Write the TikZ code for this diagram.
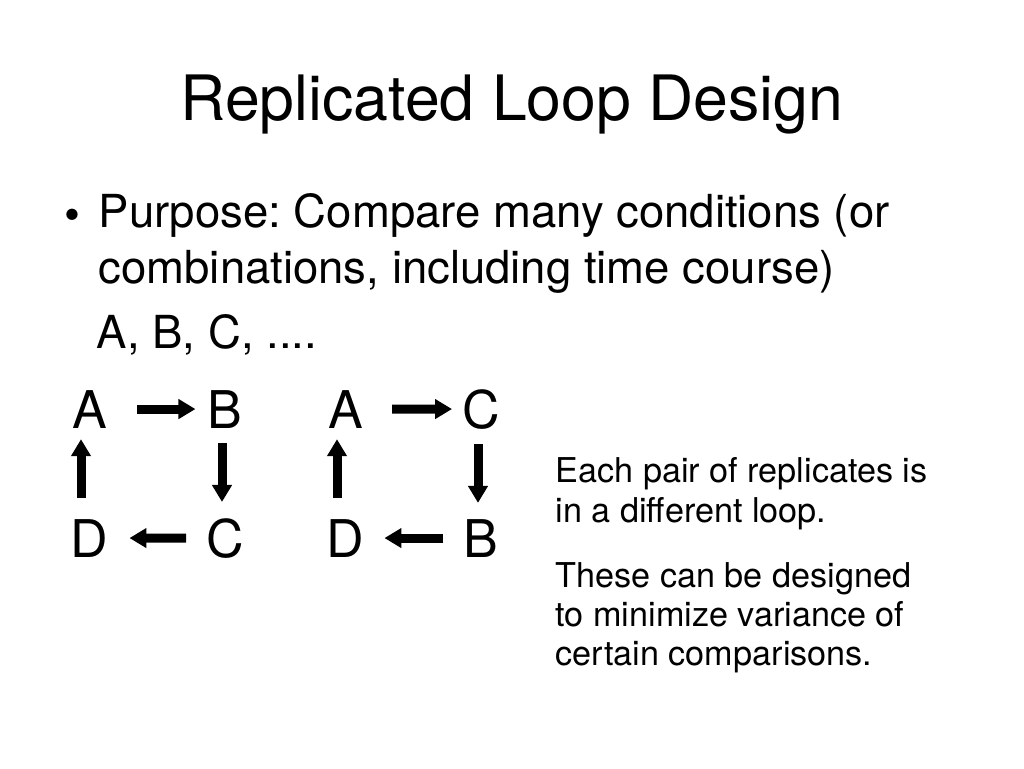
\documentclass[tikz,border=0pt]{standalone}
\usepackage{fontspec}
\setmainfont{TeX Gyre Heros}
\usepackage{tikz}
\usetikzlibrary{arrows.meta}
\frenchspacing

\tikzset{
  letter/.style={font=\fontsize{52}{60}\selectfont, inner sep=0pt, anchor=base},
  body/.style={font=\fontsize{45.5}{54}\selectfont, inner sep=0pt, anchor=base west},
  note/.style={font=\fontsize{34.2}{40}\selectfont, inner sep=0pt, anchor=base west},
  fat/.style={line width=9pt, -{Triangle[length=17pt,width=19pt]}},
}

\begin{document}
\begin{tikzpicture}[x=1pt, y=-1pt]
  \useasboundingbox (0,0) rectangle (1024,768);

  %% Title
  \node[font=\fontsize{62.6}{70}\selectfont, inner sep=0pt, anchor=base] (title)
    at (512,120) {Replicated Loop Design};

  %% Bullet text
  \node[font=\fontsize{45.5}{54}\selectfont, inner sep=0pt, anchor=base] (bullet) at (72,230) {\textbullet};
  \node[body] (purpose) at (98.5,227) {Purpose: Compare many conditions (or};
  \node[body] (combi) at (98.5,283) {combinations, including time course)};
  \node[body] (list) at (96.5,348) {A, B, C, ....};

  %% First loop
  \node[letter] (A1) at (89.5,428) {A};
  \node[letter] (B1) at (225,428) {B};
  \node[letter] (D1) at (89.5,557) {D};
  \node[letter] (C1) at (225,557) {C};
  \draw[fat, shorten <=30pt, shorten >=12pt] (A1.east) -- (B1.west);
  \draw[fat, shorten <=15pt, shorten >=16pt] ([xshift=-3pt]B1.south) -- ([xshift=-3pt]C1.north);
  \draw[fat, shorten <=20pt, shorten >=21pt] (C1.west) -- (D1.east);
  \draw[fat, shorten <=21pt, shorten >=11pt] ([xshift=-8.5pt]D1.north) -- ([xshift=-8.5pt]A1.south);

  %% Second loop
  \node[letter] (A2) at (345.5,428) {A};
  \node[letter] (C2) at (481,428) {C};
  \node[letter] (D2) at (345.5,557) {D};
  \node[letter] (B2) at (481,557) {B};
  \draw[fat, shorten <=29pt, shorten >=10pt] (A2.east) -- (C2.west);
  \draw[fat, shorten <=15pt, shorten >=16pt] ([xshift=-3pt]C2.south) -- ([xshift=-3pt]B2.north);
  \draw[fat, shorten <=20pt, shorten >=20pt] (B2.west) -- (D2.east);
  \draw[fat, shorten <=21pt, shorten >=11pt] ([xshift=-8.5pt]D2.north) -- ([xshift=-8.5pt]A2.south);

  %% Side notes
  \node[note] (n1) at (555.5,482) {Each pair of replicates is};
  \node[note] (n2) at (555.5,522) {in a different loop.};
  \node[note] (n3) at (555.5,587) {These can be designed};
  \node[note] (n4) at (555.5,626) {to minimize variance of};
  \node[note] (n5) at (555.5,665) {certain comparisons.};
\end{tikzpicture}
\end{document}
